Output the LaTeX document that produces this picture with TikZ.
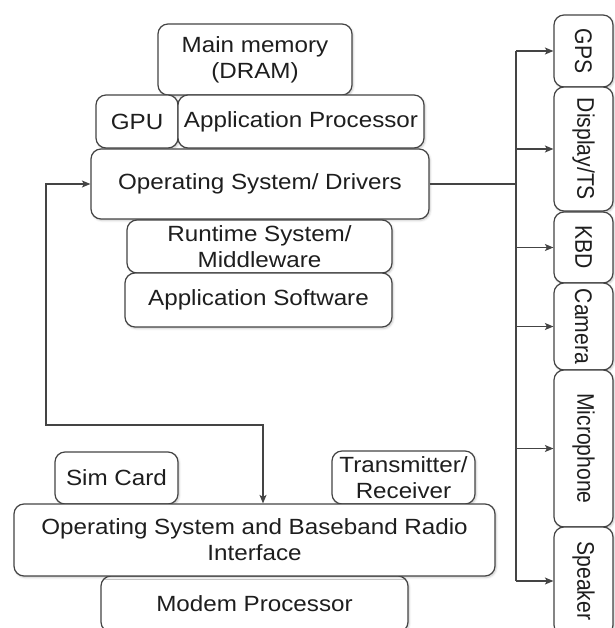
\documentclass[tikz,border=0pt]{standalone}
\usepackage{fontspec}
\setmainfont{Liberation Sans}
\newfontfamily\hfont{Liberation Sans}[FakeStretch=1.1]
\newfontfamily\vfont{Liberation Sans}[FakeStretch=0.88]
\usetikzlibrary{arrows.meta,shadows.blur}

\definecolor{edgeclr}{HTML}{444444}
\definecolor{txtclr}{HTML}{1E1E1E}

\tikzset{
  >={Stealth[length=8.5pt,width=7pt,inset=2pt]},
  blk/.style={draw=edgeclr, line width=1.2pt, rounded corners=10pt, fill=white,
    text=txtclr, align=center, inner sep=0pt,
    font=\hfont\fontsize{22}{26}\selectfont,
    blur shadow={shadow xshift=1.2pt, shadow yshift=-1.5pt,
      shadow blur radius=2pt, shadow opacity=22}},
  % peripherals: text reads top to bottom; after rotate=-90 the
  % node's south anchor faces left
  dev/.style={blk, rotate=-90, minimum height=59pt,
    font=\vfont\fontsize{24}{28}\selectfont},
  link/.style={draw=edgeclr, line width=1.2pt},
  arr/.style={link, ->},
  arrs/.style={link, <->}
}

\begin{document}
\begin{tikzpicture}[x=1pt,y=-1pt]
\useasboundingbox (0,0) rectangle (614,628);

% application processor stack
\node[blk, minimum width=194, minimum height=71] (mem) at (255,59.5) {Main memory\\(DRAM)};
\node[blk, minimum width=82,  minimum height=53] (gpu) at (137,121.5) {GPU};
\node[blk, minimum width=246, minimum height=53] (ap)  at (301,121.5) {Application Processor};
\node[blk, minimum width=338, minimum height=70] (os)  at (260,184) {Operating System/ Drivers};
\node[blk, minimum width=265, minimum height=53] (rt)  at (259.5,246.5) {Runtime System/\\Middleware};
\node[blk, minimum width=267, minimum height=54] (app) at (258.5,300) {Application Software};

% modem stack
\node[blk, minimum width=123, minimum height=52] (sim) at (116.5,478) {Sim Card};
\node[blk, minimum width=143, minimum height=53] (trx) at (403.5,477.5) {Transmitter/\\Receiver};
\node[blk, minimum width=307, minimum height=56] (mdm) at (254.5,604) {Modem Processor};
\node[blk, minimum width=481, minimum height=72] (osb) at (254.5,540) {Operating System and Baseband Radio\\Interface};

% peripherals
\node[dev, minimum width=72]  (gps) at (583.5,51)    {GPS};
\node[dev, minimum width=124] (dsp) at (583.5,149)   {Display/TS};
\node[dev, minimum width=71]  (kbd) at (583.5,247.5) {KBD};
\node[dev, minimum width=87]  (cam) at (583.5,326.5) {Camera};
\node[dev, minimum width=157] (mic) at (583.5,448.5) {Microphone};
\node[dev, minimum width=108] (spk) at (583.5,581)   {Speaker};

% peripheral bus
\coordinate (bus) at (516,184);
\draw[link] (os.east) -- (bus);
\draw[link] (bus |- gps.south) -- (bus |- spk.south);
\foreach \d in {gps,dsp,kbd,cam,mic,spk}
  \draw[arr] (bus |- \d.south) -- (\d.south);

% link between the two operating systems
\coordinate (fbl) at (46,425);
\coordinate (fbr) at (263,425);
\draw[arrs] (os.west) -| (fbl) -- (fbr) -- (fbr |- osb.north);
\end{tikzpicture}
\end{document}
